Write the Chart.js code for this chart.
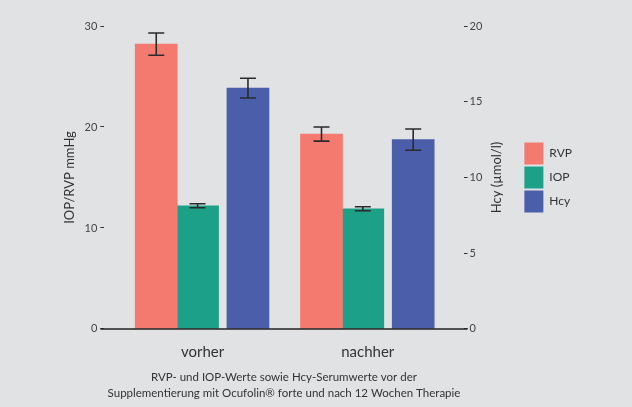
<!DOCTYPE html>
<html>
<head>
<meta charset="utf-8">
<script src="https://cdn.jsdelivr.net/npm/chart.js@4.4.0/dist/chart.umd.min.js"></script>
<style>
    html, body { margin: 0; padding: 0; background: #e1e2e4; }
    #wrap { width: 632px; height: 407px; }
</style>
</head>
<body>
<div id="wrap"><canvas id="chart-1"></canvas></div>
<script>
const groups = ['vorher', 'nachher']
const rvp = [28.2, 19.3]
const rvpErr = [1.1, 0.7]
const iop = [12.2, 11.9]
const iopErr = [0.2, 0.2]
const hcy = [15.9, 12.5]
const hcyErr = [0.65, 0.7]
const leftTicks = [0, 10, 20, 30]
const rightTicks = [0, 5, 10, 15, 20]
const rightTitle = 'Hcy (µmol/l)'
const caption = [
    'RVP- und IOP-Werte sowie Hcy-Serumwerte vor der',
    'Supplementierung mit Ocufolin® forte und nach 12 Wochen Therapie'
]

const fontFamily = 'Lato, "Noto Sans", sans-serif'
const textColor = '#333'

// bars sit at the group index plus a small shift (RVP and IOP touch, Hcy stands apart)
const toPoints = (values, shift) => values.map((v, i) => ({ x: i + shift, y: v }))

////////////////////////////// error bars, baseline, right axis title
const errorBarPlugin = {
    id: 'errorBars',
    afterDatasetsDraw(chart) {
        const ctx = chart.ctx
        chart.data.datasets.forEach((ds, i) => {
            const meta = chart.getDatasetMeta(i)
            const yScale = chart.scales[meta.yAxisID]
            meta.data.forEach((bar, j) => {
                const v = ds.data[j].y
                const e = ds.errors[j]
                const top = yScale.getPixelForValue(v + e)
                const bottom = yScale.getPixelForValue(v - e)
                ctx.save()
                ctx.strokeStyle = '#2b2b2b'
                ctx.lineWidth = 1.6
                ctx.beginPath()
                ctx.moveTo(bar.x, top)
                ctx.lineTo(bar.x, bottom)
                ctx.moveTo(bar.x - 8, top)
                ctx.lineTo(bar.x + 8, top)
                ctx.moveTo(bar.x - 8, bottom)
                ctx.lineTo(bar.x + 8, bottom)
                ctx.stroke()
                ctx.restore()
            })
        })
        // baseline across the plot, reaching under both tick rows
        const area = chart.chartArea
        const y0 = chart.scales.y.getPixelForValue(0)
        ctx.save()
        ctx.strokeStyle = '#222'
        ctx.lineWidth = 1.5
        ctx.beginPath()
        ctx.moveTo(area.left - 4, y0)
        ctx.lineTo(area.right + 4, y0)
        ctx.stroke()
        ctx.restore()

        // right title reads bottom-to-top like the left one
        const s = chart.scales.y1
        ctx.save()
        ctx.translate(s.right - 26, (area.top + area.bottom) / 2)
        ctx.rotate(-Math.PI / 2)
        ctx.fillStyle = textColor
        ctx.font = '13px ' + fontFamily
        ctx.textAlign = 'center'
        ctx.textBaseline = 'middle'
        ctx.fillText(rightTitle, 0, 0)
        ctx.restore()
    }
}

const ctx1 = document.getElementById('chart-1')

new Chart(ctx1, {
    type: 'bar',
    data: {
        datasets: [
            {
                label: 'RVP',
                data: toPoints(rvp, -0.28),
                errors: rvpErr,
                backgroundColor: '#f47a70',
                yAxisID: 'y'
            },
            {
                label: 'IOP',
                data: toPoints(iop, -0.03),
                errors: iopErr,
                backgroundColor: '#1ca088',
                yAxisID: 'y'
            },
            {
                label: 'Hcy',
                data: toPoints(hcy, 0.275),
                errors: hcyErr,
                backgroundColor: '#4b5eaa',
                yAxisID: 'y1'
            }
        ]
    },
    options: {
        responsive: true,
        maintainAspectRatio: false,
        animation: false,
        datasets: {
            bar: {
                grouped: false,
                barThickness: 42,
                borderWidth: 0
            }
        },
        layout: {
            padding: { left: 58, right: 50, top: 26, bottom: 2 }
        },
        plugins: {
            legend: {
                position: 'right',
                fullSize: false,
                align: 'center',
                labels: {
                    boxWidth: 19,
                    boxHeight: 22,
                    padding: 2,
                    color: textColor,
                    font: { family: fontFamily, size: 12 }
                }
            },
            title: {
                display: true,
                position: 'bottom',
                fullSize: false,
                text: caption,
                color: textColor,
                font: { family: fontFamily, size: 11.5, weight: 'normal', lineHeight: 1.35 },
                padding: { top: 3, bottom: 4 }
            },
            tooltip: { enabled: false }
        },
        scales: {
            x: {
                type: 'linear',
                offset: false,
                min: -0.594,
                max: 1.58,
                grid: { display: false, offset: false },
                border: { display: false },
                afterBuildTicks: scale => {
                    scale.ticks = groups.map((g, i) => ({ value: i }))
                },
                ticks: {
                    autoSkip: false,
                    maxRotation: 0,
                    padding: 6,
                    color: textColor,
                    font: { family: fontFamily, size: 15 },
                    callback: v => groups[v]
                }
            },
            y: {
                position: 'left',
                min: 0,
                max: 30,
                afterBuildTicks: scale => {
                    scale.ticks = leftTicks.map(v => ({ value: v }))
                },
                grid: { drawOnChartArea: false, tickLength: 4, color: '#333' },
                border: { display: false },
                ticks: {
                    padding: 3,
                    color: '#444',
                    font: { family: fontFamily, size: 11 }
                },
                title: {
                    display: true,
                    text: 'IOP/RVP mmHg',
                    color: textColor,
                    font: { family: fontFamily, size: 13 },
                    padding: 4
                }
            },
            y1: {
                position: 'right',
                min: 0,
                max: 20,
                afterBuildTicks: scale => {
                    scale.ticks = rightTicks.map(v => ({ value: v }))
                },
                // room for the title that the plugin draws
                afterFit: scale => {
                    scale.width += 38
                },
                grid: { drawOnChartArea: false, tickLength: 4, color: '#333' },
                border: { display: false },
                ticks: {
                    padding: 2,
                    color: '#444',
                    font: { family: fontFamily, size: 11 }
                }
            }
        }
    },
    plugins: [errorBarPlugin]
});
</script>
</body>
</html>
